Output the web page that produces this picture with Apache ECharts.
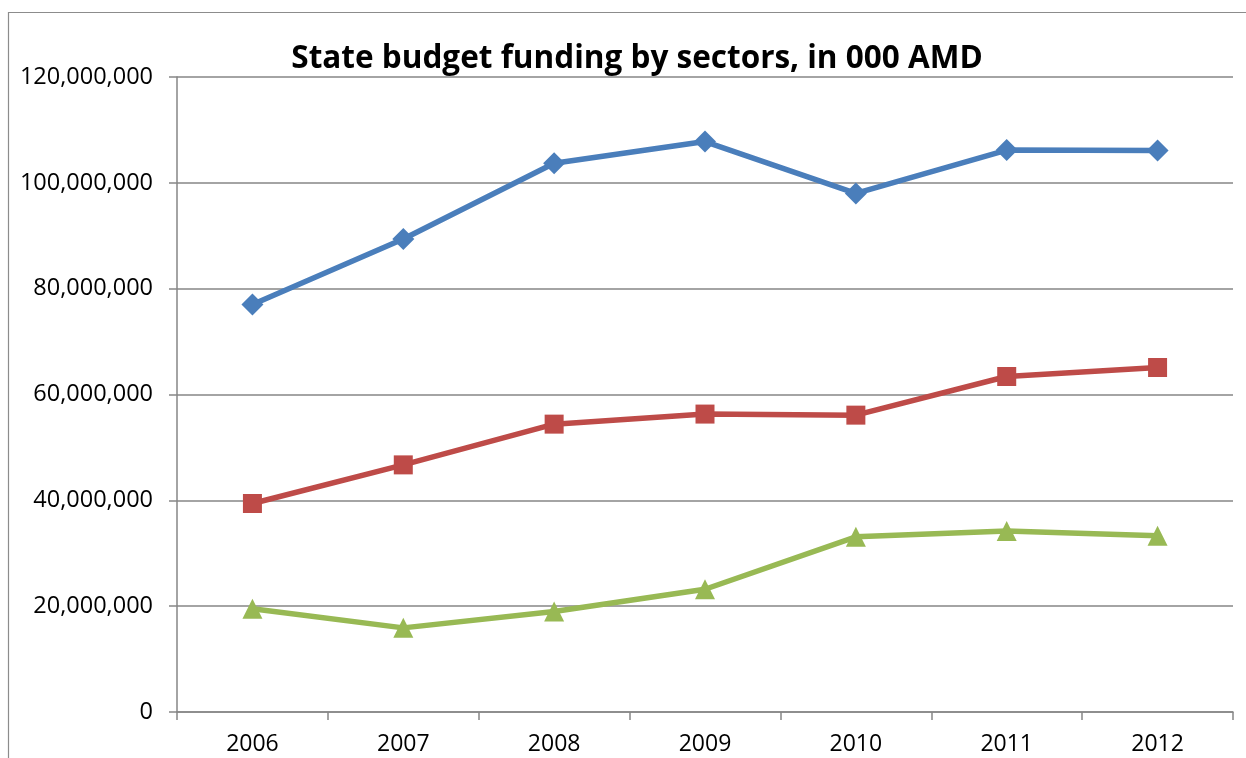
<!DOCTYPE html>
<html>
<head>
<meta charset="utf-8">
<script src="https://cdn.jsdelivr.net/npm/echarts@6/dist/echarts.min.js"></script>
<style>
  html, body { margin: 0; padding: 0; background: #fff; }
  #chart { width: 1246px; height: 758px; }
</style>
</head>
<body>
<div id="chart"></div>
<script>
// Years on the category axis
const years = ['2006', '2007', '2008', '2009', '2010', '2011', '2012'];

// Funding per sector, thousand AMD
const sectorA = [77000000, 89400000, 103700000, 107800000, 98000000, 106200000, 106100000];
const sectorB = [39400000, 46700000, 54400000, 56300000, 56100000, 63400000, 65100000];
const sectorC = [19500000, 15900000, 19000000, 23200000, 33100000, 34200000, 33300000];

// Value axis range and step
const yMin = 0;
const yMax = 120000000;
const yStep = 20000000;

const chart = echarts.init(document.getElementById('chart'), null, { renderer: 'canvas' });

const axisGray = '#868686';
const fontFamily = '"Open Sans", "Liberation Sans", sans-serif';

function lineSeries(name, data, color, symbol, size) {
  return {
    name: name,
    type: 'line',
    data: data,
    symbol: symbol,
    symbolSize: size,
    showSymbol: true,
    lineStyle: { color: color, width: 5.5 },
    itemStyle: { color: color, borderWidth: 0 },
    emphasis: { disabled: true },
    animation: false
  };
}

chart.setOption({
  backgroundColor: '#ffffff',
  animation: false,
  title: {
    text: 'State budget funding by sectors, in 000 AMD',
    left: 632,
    textAlign: 'center',
    top: 38,
    textStyle: {
      fontFamily: fontFamily,
      fontWeight: 'bold',
      fontSize: 31.5,
      color: '#000'
    }
  },
  graphic: [{
    type: 'rect',
    shape: { x: 8.5, y: 12.5, width: 1300, height: 800 },
    style: { fill: 'none', stroke: '#8c8c8c', lineWidth: 1.2 },
    silent: true,
    z: -1
  }],
  grid: { left: 177, right: 13, top: 77, bottom: 46, containLabel: false },
  xAxis: {
    type: 'category',
    data: years,
    boundaryGap: true,
    axisLine: { show: true, lineStyle: { color: axisGray, width: 1.5 } },
    axisTick: { show: true, alignWithLabel: false, inside: false, length: 8, lineStyle: { color: axisGray, width: 1.5 } },
    axisLabel: { color: '#000', fontFamily: fontFamily, fontSize: 23, margin: 21 },
    splitLine: { show: false }
  },
  yAxis: {
    type: 'value',
    min: yMin,
    max: yMax,
    interval: yStep,
    axisLine: { show: true, lineStyle: { color: axisGray, width: 1.5 } },
    axisTick: { show: true, inside: false, length: 8, lineStyle: { color: axisGray, width: 1.5 } },
    axisLabel: {
      color: '#000',
      fontFamily: fontFamily,
      fontSize: 23.5,
      margin: 24,
      formatter: function (v) { return v.toLocaleString('en-US'); }
    },
    splitLine: { show: true, lineStyle: { color: axisGray, width: 1.5 } }
  },
  series: [
    lineSeries('Sector A', sectorA, '#4A7EBB', 'diamond', 22),
    lineSeries('Sector B', sectorB, '#BE4B48', 'rect', 19),
    lineSeries('Sector C', sectorC, '#98B954', 'triangle', 20)
  ]
});
</script>
</body>
</html>
